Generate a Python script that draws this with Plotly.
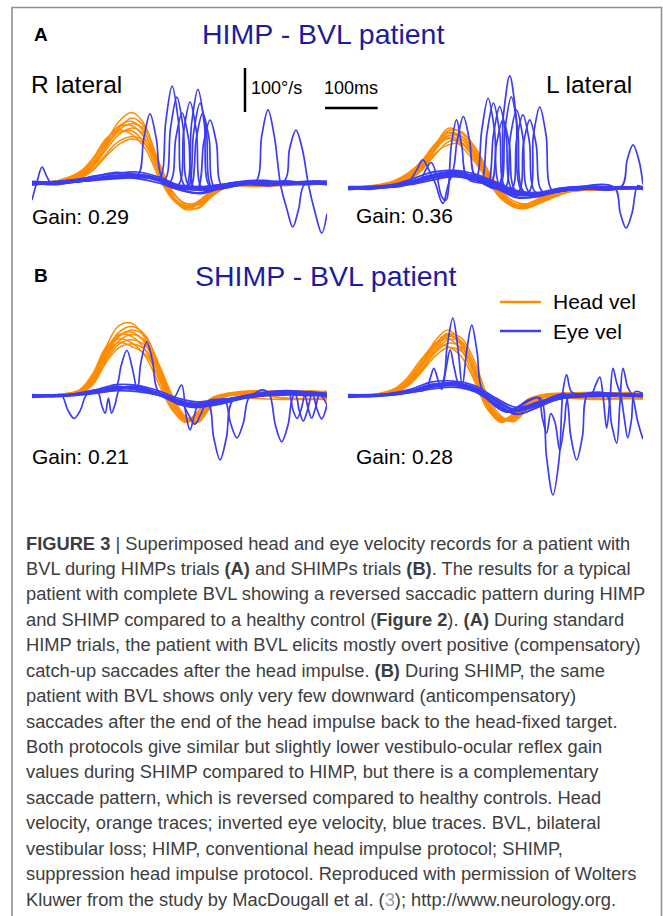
import plotly.graph_objects as go

# ---------------- data ----------------
# time key points (ms) shared by head-velocity traces
HEAD_T = [0, 50, 90, 115, 140, 165, 190, 215, 240, 265, 290, 315, 340, 370, 420, 480, 530, 560]
# time key points (ms) shared by slow-phase eye-velocity traces
EYE_T = [0, 40, 80, 120, 160, 200, 240, 280, 320, 360, 400, 440, 480, 520, 560]

# ---- A: HIMP, R lateral ----
HIMP_R_HEAD = [
    [0, 3, 15, 40, 90, 140, 160, 130, 35, -30, -55, -50, -28, -6, -8, -5, -3, 0],
    [2, 5, 20, 50, 95, 130, 140, 112, 30, -28, -52, -48, -22, -6, -6, -4, -2, -1],
    [-2, 2, 12, 35, 75, 110, 125, 108, 40, -25, -60, -56, -30, -8, -4, -6, -3, -2],
    [1, 4, 18, 45, 85, 115, 118, 88, 22, -32, -52, -44, -20, -3, -7, -3, 0, 1],
    [0, 6, 25, 55, 100, 120, 110, 78, 15, -35, -55, -42, -18, -4, -5, -2, -4, 0],
    [-1, 2, 10, 30, 65, 95, 105, 95, 45, -18, -46, -50, -30, -10, -3, -5, -2, -1],
    [2, 3, 14, 38, 80, 120, 135, 120, 50, -15, -50, -58, -32, -9, -6, -4, -1, 1],
    [0, 4, 16, 42, 88, 125, 148, 125, 40, -30, -58, -47, -20, -4, -6, -3, -2, 0],
    [-3, 1, 10, 28, 60, 88, 100, 88, 38, -20, -46, -44, -24, -6, -4, -4, -3, -2],
    [1, 5, 22, 52, 96, 128, 130, 100, 30, -28, -54, -50, -24, -5, -7, -2, -1, 1],
]
HIMP_R_EYE = [
    [0, 2, 5, 12, 18, 20, 10, -12, -15, -5, 0, 2, 0, 3, 0],
    [-5, 0, 3, 10, 15, 16, 6, -15, -22, -8, -2, 0, -4, 0, -3],
    [4, 3, 8, 15, 24, 18, 5, -10, -10, -3, 4, 6, 1, 4, 4],
    [0, -4, 2, 6, 10, 12, 8, -8, -14, -6, -1, -4, 0, -3, 0],
    [-2, 1, 6, 16, 22, 25, 14, -5, -8, -4, 3, 1, 5, 0, -4],
    [2, 0, 4, 9, 14, 10, 0, -16, -24, -12, -5, 0, -1, 2, 2],
]
HIMP_R_SACC_T = [
    [0, 80, 160, 200, 212, 224, 236, 248, 285, 330, 420, 560],
    [0, 80, 160, 220, 242, 254, 266, 278, 290, 330, 420, 560],
    [0, 80, 160, 220, 251, 263, 275, 287, 299, 340, 420, 560],
    [0, 80, 160, 220, 261, 273, 285, 297, 309, 350, 430, 560],
    [0, 80, 160, 220, 276, 288, 300, 312, 324, 360, 440, 560],
    [0, 80, 160, 220, 270, 291, 303, 315, 327, 339, 380, 560],
    [0, 80, 160, 220, 275, 295, 307, 319, 331, 343, 390, 560],
    [0, 80, 160, 220, 280, 300, 312, 324, 336, 348, 400, 560],
    [0, 80, 160, 220, 290, 314, 326, 338, 350, 362, 410, 560],
    [0, 10, 19, 28, 38, 80, 160, 220, 290, 360, 460, 560],
    [0, 80, 160, 220, 300, 380, 424, 436, 448, 460, 472, 484, 495, 506, 518, 560],
    [0, 80, 160, 220, 300, 380, 477, 489, 501, 513, 525, 538, 550, 560],
]
HIMP_R_SACC_V = [
    [1, 4, 16, 16, 100, 157, 100, 10, -10, -14, 0, 1],
    [0, 3, 14, 14, 10, 140, 220, 140, -6, -15, -1, 0],
    [-1, 2, 12, 16, 6, 125, 195, 125, -8, -12, 0, -1],
    [0, 4, 15, 15, 2, 102, 159, 102, -12, -10, 1, 0],
    [1, 3, 13, 14, -6, 118, 184, 118, -14, -8, 0, 1],
    [0, 2, 15, 16, -8, -12, 136, 213, 136, -10, -3, 0],
    [-1, 3, 14, 14, -10, -14, 116, 181, 116, -12, -2, 0],
    [0, 4, 16, 15, -9, -12, 102, 159, 102, -11, 0, 1],
    [1, 3, 12, 13, -12, -12, 92, 143, 92, -8, 0, 0],
    [-39, 5, 36, 15, -2, 3, 14, 15, -14, -4, 2, 0],
    [0, 2, 14, 14, -14, 0, 2, 106, 166, 106, -5, -60, -100, -60, -2, 3],
    [1, 3, 15, 13, -12, -2, 2, 78, 120, 78, -5, -70, -114, -70],
]

# ---- A: HIMP, L lateral ----
HIMP_L_HEAD = [
    [0, 4, 12, 25, 50, 95, 136, 125, 90, 40, -10, -38, -42, -30, -5, -3, -2, 0],
    [2, 3, 10, 22, 45, 85, 118, 118, 85, 35, -15, -40, -45, -28, -6, -4, 0, 1],
    [-1, 5, 15, 30, 55, 95, 120, 105, 70, 25, -20, -42, -40, -25, -4, -2, -3, -1],
    [1, 2, 8, 18, 40, 75, 105, 110, 80, 30, -12, -35, -38, -26, -8, -3, -1, 1],
    [0, 6, 18, 35, 62, 100, 125, 112, 75, 28, -18, -44, -46, -30, -7, -5, -2, 0],
    [-2, 2, 9, 20, 42, 78, 98, 100, 78, 38, -5, -30, -36, -24, -6, -2, -2, -1],
    [1, 4, 14, 28, 52, 90, 112, 102, 66, 20, -22, -40, -38, -22, -4, -3, -1, 2],
    [0, 3, 11, 24, 48, 88, 130, 128, 95, 42, -8, -36, -44, -32, -9, -4, -2, 0],
    [-1, 3, 11, 26, 50, 92, 126, 118, 82, 30, -14, -38, -40, -27, -5, -2, -3, 0],
    [2, 5, 16, 32, 58, 98, 115, 95, 60, 18, -24, -42, -36, -20, -3, -4, 0, 1],
]
HIMP_L_EYE = [
    [0, 1, 4, 15, 30, 35, 28, 10, -12, -15, -5, 0, 2, -2, 0],
    [-4, 0, 2, 10, 22, 28, 24, 5, -20, -18, -6, -4, 0, 1, -3],
    [3, 4, 6, 20, 36, 40, 32, 14, -6, -10, -1, 3, 4, 0, 3],
    [0, -3, 3, 12, 24, 30, 20, 0, -22, -20, -8, -3, -3, -2, 0],
    [-2, 2, 7, 16, 30, 38, 26, 8, -14, -16, -2, 2, 0, 3, -2],
    [2, 0, 2, 8, 18, 26, 18, 2, -16, -12, -5, 0, 2, -1, 2],
]
HIMP_L_SACC_T = [
    [0, 60, 110, 130, 142, 154, 166, 180, 200, 260, 330, 420, 560],
    [0, 60, 110, 136, 147, 158, 168, 178, 186, 196, 206, 216, 228, 280, 340, 440, 560],
    [0, 60, 120, 170, 195, 207, 219, 231, 243, 290, 350, 440, 560],
    [0, 60, 120, 180, 225, 242, 254, 266, 278, 290, 330, 420, 560],
    [0, 60, 120, 180, 235, 252, 264, 276, 288, 300, 345, 420, 560],
    [0, 60, 120, 180, 240, 264, 276, 288, 300, 312, 355, 430, 560],
    [0, 60, 120, 180, 240, 270, 282, 294, 306, 318, 360, 440, 560],
    [0, 60, 120, 180, 240, 283, 295, 307, 319, 331, 370, 440, 560],
    [0, 60, 120, 180, 240, 286, 298, 310, 322, 334, 375, 450, 560],
    [0, 60, 120, 180, 250, 296, 308, 320, 332, 344, 385, 450, 560],
    [0, 60, 120, 180, 250, 308, 320, 332, 344, 356, 395, 460, 560],
    [0, 60, 120, 180, 250, 321, 333, 345, 357, 369, 405, 470, 560],
    [0, 60, 120, 180, 260, 340, 352, 364, 376, 388, 425, 480, 560],
    [0, 60, 120, 180, 260, 330, 420, 505, 517, 528, 539, 550, 560],
    [0, 60, 120, 180, 260, 330, 420, 518, 530, 541, 552, 560],
]
HIMP_L_SACC_V = [
    [0, 1, 8, 40, 64, 40, 10, -35, 30, 20, -15, 0, 0],
    [1, 2, 10, 15, 40, 58, 30, -20, -28, 95, 155, 95, 20, 8, -14, 1, 0],
    [0, 2, 14, 30, 30, 106, 162, 106, 22, 6, -16, 0, 1],
    [-1, 1, 12, 32, 26, 18, 132, 204, 132, 0, -16, -2, 0],
    [0, 2, 14, 34, 24, 14, 126, 193, 126, -2, -15, 0, 1],
    [1, 2, 12, 30, 22, 8, 120, 185, 120, -4, -16, -1, 0],
    [0, 1, 13, 32, 22, 6, 100, 155, 100, -6, -14, 0, 1],
    [-1, 2, 12, 31, 20, 0, 165, 255, 165, -8, -12, 0, 0],
    [0, 1, 14, 33, 22, 2, 134, 207, 134, -9, -12, 1, 0],
    [1, 2, 12, 30, 18, -4, 115, 177, 115, -10, -10, 0, 1],
    [0, 1, 13, 32, 18, -8, 108, 166, 108, -10, -8, 1, 0],
    [-1, 2, 12, 31, 17, -12, 100, 155, 100, -8, -6, 0, 0],
    [0, 1, 14, 30, 15, -14, 120, 184, 120, -6, -3, 1, 0],
    [0, 2, 14, 30, 18, -15, 0, 2, -58, -91, -58, 5, 0],
    [1, 1, 12, 31, 16, -14, 1, 2, 64, 98, 64, 8],
]

# ---- B: SHIMP, R lateral ----
SHIMP_R_HEAD = [
    [0, 2, 8, 40, 110, 160, 165, 130, 50, -20, -60, -45, -10, 5, 10, 8, 12, 8],
    [1, 3, 10, 45, 105, 140, 135, 105, 40, -25, -55, -40, -8, 4, 8, 10, 6, 9],
    [-1, 1, 6, 30, 85, 125, 140, 125, 65, -5, -50, -55, -20, 2, 6, 5, 8, 4],
    [0, 4, 14, 50, 110, 130, 120, 90, 30, -30, -58, -35, -5, 6, 12, 9, 10, 11],
    [2, 2, 7, 32, 90, 135, 150, 135, 75, 5, -45, -60, -25, 0, 8, 12, 9, 6],
    [-2, 0, 5, 25, 75, 110, 118, 105, 55, -8, -48, -50, -18, 3, 5, -6, -8, -5],
    [1, 3, 12, 42, 100, 145, 158, 138, 70, -2, -52, -58, -22, 1, 9, 7, 10, 7],
    [0, 2, 9, 35, 92, 122, 112, 95, 45, -15, -52, -42, -12, 2, -5, -8, -7, -9],
    [1, 2, 10, 38, 96, 138, 145, 120, 55, -12, -54, -48, -15, 3, 7, 10, 6, 8],
    [-1, 1, 6, 28, 80, 118, 128, 115, 62, -4, -46, -56, -22, 0, 4, -4, -6, -3],
]
SHIMP_R_EYE = [
    [0, 1, 3, 10, 20, 18, 8, -12, -20, -14, -4, 4, 8, 5, 3],
    [-3, 0, 2, 8, 16, 14, 2, -18, -24, -18, -6, 0, 5, 6, 0],
    [3, 2, 5, 14, 26, 24, 12, -6, -14, -8, 0, 8, 12, 10, 6],
    [0, -2, 1, 6, 12, 10, 2, -14, -18, -12, -4, 3, 4, 1, 1],
    [1, 2, 4, 11, 22, 16, 6, -10, -20, -15, -5, 5, 9, 7, 4],
    [-2, 0, 3, 9, 18, 22, 6, -20, -26, -14, -3, 1, 2, 4, -2],
]
SHIMP_R_SACC_T = [
    [0, 40, 56, 68, 80, 92, 104, 130, 170, 220, 280, 320, 400, 480, 560],
    [0, 60, 110, 125, 132, 139, 145, 151, 158, 167, 200, 280, 320, 400, 480, 560],
    [0, 60, 120, 158, 169, 180, 191, 200, 207, 218, 229, 240, 280, 320, 400, 480, 560],
    [0, 60, 120, 180, 240, 268, 284, 292, 300, 308, 318, 360, 440, 560],
    [0, 60, 120, 180, 240, 285, 297, 309, 321, 333, 380, 440, 500, 560],
    [0, 60, 120, 180, 240, 300, 333, 345, 357, 369, 381, 420, 480, 560],
    [0, 60, 120, 180, 240, 300, 345, 365, 377, 389, 401, 413, 440, 480, 560],
    [0, 60, 120, 180, 240, 300, 360, 420, 436, 450, 462, 474, 486, 498, 520, 560],
    [0, 60, 120, 180, 240, 300, 360, 440, 486, 495, 503, 511, 518, 524, 531, 538, 546, 560],
    [0, 60, 120, 180, 240, 300, 360, 440, 498, 507, 515, 523, 532, 541, 550, 560],
]
SHIMP_R_SACC_V = [
    [0, 1, 2, -32, -51, -32, 3, 10, 20, 12, -12, -20, -4, 8, 3],
    [1, 2, 6, 8, -20, -39, -5, -39, -18, 15, 16, -12, -18, -3, 7, 2],
    [0, 1, 8, 18, 68, 104, 60, 12, 78, 123, 78, 10, -12, -18, -4, 6, 3],
    [0, 2, 10, 20, 6, -5, 25, -40, -77, -45, -15, -12, 4, 3],
    [1, 2, 9, 18, 5, -18, -42, -64, -40, -12, -6, 4, 8, 4],
    [0, 2, 10, 20, 6, -20, -14, -95, -145, -95, -10, 4, 8, 4],
    [0, 1, 8, 18, 5, -20, -14, -8, -62, -95, -62, -2, 5, 8, 3],
    [0, 2, 10, 18, 4, -18, -12, 4, 14, 6, -66, -104, -66, 4, 8, 5],
    [1, 2, 9, 20, 6, -18, -12, 6, 8, -30, -51, -30, 2, -28, -50, -28, 4, -20],
    [0, 1, 8, 19, 5, -20, -14, 4, 6, -32, -57, -32, 6, -30, -52, -20],
]

# ---- B: SHIMP, L lateral ----
SHIMP_L_HEAD = [
    [0, 2, 12, 35, 70, 125, 150, 120, 50, -25, -60, -45, -15, 0, 5, 6, 4, 5],
    [1, 3, 15, 40, 80, 120, 130, 105, 40, -30, -55, -40, -10, 2, 6, 4, 6, 3],
    [-1, 1, 8, 28, 60, 105, 135, 125, 70, -10, -50, -55, -25, -3, 4, 3, 5, 4],
    [0, 4, 18, 45, 85, 115, 112, 90, 35, -30, -58, -38, -8, 3, 7, 8, 3, 6],
    [2, 2, 10, 32, 68, 110, 140, 132, 80, 0, -45, -58, -30, -5, 3, 5, 7, 2],
    [-2, 0, 7, 24, 55, 90, 110, 102, 60, -12, -48, -50, -22, -2, -5, -8, -6, -7],
    [1, 3, 14, 38, 75, 118, 142, 115, 52, -20, -57, -48, -16, 1, 6, 7, 8, 5],
    [0, 2, 9, 30, 62, 98, 120, 110, 58, -15, -52, -45, -18, -1, -4, -6, -5, -6],
    [1, 3, 13, 36, 72, 115, 138, 118, 55, -18, -55, -46, -14, 1, 5, 6, 4, 5],
    [-1, 1, 8, 26, 58, 100, 128, 122, 66, -8, -50, -52, -24, -2, 3, -5, -4, -5],
]
SHIMP_L_EYE = [
    [0, 1, 4, 12, 25, 30, 20, -10, -35, -20, -3, 2, 4, 3, 2],
    [-3, 0, 2, 9, 20, 24, 12, -16, -40, -26, -6, -2, 2, 1, -2],
    [3, 3, 6, 16, 32, 34, 24, -4, -26, -14, 1, 5, 7, 5, 4],
    [0, -2, 2, 8, 16, 20, 10, -18, -42, -25, -7, -2, -1, 0, -1],
    [1, 2, 5, 13, 27, 28, 18, -8, -32, -18, -2, 3, 5, 4, 2],
    [-2, 0, 3, 10, 22, 30, 16, -12, -34, -22, -4, 1, 3, 2, 1],
]
SHIMP_L_SACC_T = [
    [0, 60, 120, 148, 156, 163, 170, 178, 186, 194, 202, 212, 250, 300, 360, 440, 560],
    [0, 60, 120, 160, 178, 188, 199, 209, 217, 225, 235, 245, 256, 300, 360, 440, 560],
    [0, 60, 120, 180, 240, 300, 345, 365, 377, 389, 401, 408, 415, 424, 440, 480, 560],
    [0, 60, 120, 180, 240, 300, 345, 361, 369, 377, 385, 393, 402, 411, 420, 460, 560],
    [0, 60, 120, 180, 240, 300, 360, 400, 412, 423, 434, 445, 456, 490, 560],
    [0, 60, 120, 180, 240, 300, 360, 440, 462, 470, 478, 485, 491, 497, 503, 510, 518, 525, 531, 538, 545, 560],
    [0, 60, 120, 180, 240, 300, 360, 440, 490, 500, 510, 516, 522, 531, 540, 550, 560],
]
SHIMP_L_SACC_V = [
    [0, 1, 10, 15, 40, 63, 40, 15, 62, 105, 62, 25, 10, -34, -18, 2, 1],
    [1, 2, 12, 24, 28, 110, 177, 105, 22, 100, 161, 100, 10, -36, -20, 3, 2],
    [0, 1, 10, 28, 16, -34, -8, -5, -140, -225, -140, 10, 48, 10, 2, 3, 2],
    [1, 2, 11, 26, 14, -35, -10, -4, -50, -84, -40, -60, -123, -60, 0, 4, 2],
    [0, 1, 9, 27, 15, -33, -15, 3, 5, -92, -145, -92, 5, 3, 2],
    [0, 2, 10, 28, 14, -34, -16, 2, 4, 25, 43, -10, -73, -10, 63, 30, 0, -55, -95, -55, 10, 5],
    [1, 2, 11, 26, 14, -36, -18, 3, 4, -62, -107, -20, 63, 20, 0, -58, -98],
]

GAINS = ["0.29", "0.36", "0.21", "0.28"]
SIDES = ["R lateral", "L lateral"]
TITLES = ["HIMP - BVL patient", "SHIMP - BVL patient"]
LEGEND_LABELS = ["Head vel", "Eye vel"]
SCALE_MS = 100
SCALE_DEG = 100

CAPTION = [
    "<b>FIGURE 3</b> | Superimposed head and eye velocity records for a patient with",
    "BVL during HIMPs trials <b>(A)</b> and SHIMPs trials <b>(B)</b>. The results for a typical",
    "patient with complete BVL showing a reversed saccadic pattern during HIMP",
    "and SHIMP compared to a healthy control (<b>Figure 2</b>). <b>(A)</b> During standard",
    "HIMP trials, the patient with BVL elicits mostly overt positive (compensatory)",
    "catch-up saccades after the head impulse. <b>(B)</b> During SHIMP, the same",
    "patient with BVL shows only very few downward (anticompensatory)",
    "saccades after the end of the head impulse back to the head-fixed target.",
    "Both protocols give similar but slightly lower vestibulo-ocular reflex gain",
    "values during SHIMP compared to HIMP, but there is a complementary",
    "saccade pattern, which is reversed compared to healthy controls. Head",
    "velocity, orange traces; inverted eye velocity, blue traces. BVL, bilateral",
    "vestibular loss; HIMP, conventional head impulse protocol; SHIMP,",
    "suppression head impulse protocol. Reproduced with permission of Wolters",
    "Kluwer from the study by MacDougall et al. (<span style='color:#8da2b8'>3</span>); http://www.neurology.org.",
]

# ---------------- layout / style ----------------
W, H = 663, 916
T_MAX = 560
PX_PER_MS = 295 / T_MAX
PX_PER_DEG = 0.44
ORANGE = "#ff8c00"
BLUE = "#3c3cf4"
TITLE_C = "#1c1c9e"
FONT = "Liberation Sans, Arial, Helvetica, sans-serif"

# panel geometry in pixels: (x_left, y_top, y_bottom, baseline_y)
PANELS = [
    (32, 55, 250, 183, HIMP_R_HEAD, HIMP_R_EYE, HIMP_R_SACC_T, HIMP_R_SACC_V),
    (348, 55, 250, 188, HIMP_L_HEAD, HIMP_L_EYE, HIMP_L_SACC_T, HIMP_L_SACC_V),
    (32, 290, 515, 396, SHIMP_R_HEAD, SHIMP_R_EYE, SHIMP_R_SACC_T, SHIMP_R_SACC_V),
    (348, 290, 515, 396, SHIMP_L_HEAD, SHIMP_L_EYE, SHIMP_L_SACC_T, SHIMP_L_SACC_V),
]

fig = go.Figure()
layout_axes = {}

for i, (xl, yt, yb, base, head, eye, st, sv) in enumerate(PANELS):
    n = i + 1
    xa = "x" if n == 1 else f"x{n}"
    ya = "y" if n == 1 else f"y{n}"
    layout_axes["xaxis" if n == 1 else f"xaxis{n}"] = dict(
        domain=[xl / W, (xl + 295) / W], range=[0, T_MAX], visible=False,
        fixedrange=True, anchor=ya)
    layout_axes["yaxis" if n == 1 else f"yaxis{n}"] = dict(
        domain=[1 - yb / H, 1 - yt / H],
        range=[-(yb - base) / PX_PER_DEG, (base - yt) / PX_PER_DEG],
        visible=False, fixedrange=True, anchor=xa)
    for v in head:
        fig.add_trace(go.Scatter(x=HEAD_T, y=v, mode="lines", xaxis=xa, yaxis=ya,
                                 line=dict(color=ORANGE, width=1.5, shape="spline", smoothing=1),
                                 showlegend=False, hoverinfo="skip"))
    for v in eye:
        fig.add_trace(go.Scatter(x=EYE_T, y=v, mode="lines", xaxis=xa, yaxis=ya,
                                 line=dict(color=BLUE, width=1.7, shape="spline", smoothing=1),
                                 showlegend=False, hoverinfo="skip"))
    for t, v in zip(st, sv):
        fig.add_trace(go.Scatter(x=t, y=v, mode="lines", xaxis=xa, yaxis=ya,
                                 line=dict(color=BLUE, width=1.7, shape="spline", smoothing=1),
                                 showlegend=False, hoverinfo="skip"))

# overlay axis covering the page, same scale as the panels, for the scale bars
layout_axes["xaxis5"] = dict(domain=[0, 1], range=[0, W / PX_PER_MS], visible=False,
                             fixedrange=True, anchor="y5")
layout_axes["yaxis5"] = dict(domain=[0, 1], range=[0, H / PX_PER_DEG], visible=False,
                             fixedrange=True, anchor="x5")
vx = 245 / PX_PER_MS
vy0 = (H - 112) / PX_PER_DEG
fig.add_trace(go.Scatter(x=[vx, vx], y=[vy0, vy0 + SCALE_DEG], mode="lines", xaxis="x5", yaxis="y5",
                         line=dict(color="black", width=2.5), showlegend=False, hoverinfo="skip"))
hx0 = 325 / PX_PER_MS
hy = (H - 108) / PX_PER_DEG
fig.add_trace(go.Scatter(x=[hx0, hx0 + SCALE_MS], y=[hy, hy], mode="lines", xaxis="x5", yaxis="y5",
                         line=dict(color="black", width=2.5), showlegend=False, hoverinfo="skip"))


def ann(text, px, py, size, color="black", xanchor="left", bold=False):
    return dict(text=f"<b>{text}</b>" if bold else text, x=px / W, y=1 - py / H,
                xref="paper", yref="paper", xanchor=xanchor, yanchor="middle",
                showarrow=False, font=dict(family=FONT, size=size, color=color))


annotations = [
    ann("A", 32, 34, 19, bold=True),
    ann(TITLES[0], 323, 34, 28.5, TITLE_C, "center"),
    ann(SIDES[0], 29, 85, 24.5),
    ann(SIDES[1], 634, 85, 24.5, xanchor="right"),
    ann(f"{SCALE_DEG}°/s", 249, 88, 18),
    ann(f"{SCALE_MS}ms", 322, 88, 18),
    ann(f"Gain: {GAINS[0]}", 30, 216, 21),
    ann(f"Gain: {GAINS[1]}", 354, 215, 21),
    ann("B", 32, 276, 19, bold=True),
    ann(TITLES[1], 325, 276, 28.5, TITLE_C, "center"),
    ann(LEGEND_LABELS[0], 551, 302, 21),
    ann(LEGEND_LABELS[1], 551, 331, 21),
    ann(f"Gain: {GAINS[2]}", 30, 456, 21),
    ann(f"Gain: {GAINS[3]}", 354, 456, 21),
]
for k, line in enumerate(CAPTION):
    annotations.append(ann(line, 24, 543 + 25.43 * k, 18.3, "#3d3d3d"))

shapes = [
    dict(type="rect", xref="paper", yref="paper", x0=12 / W, x1=661.5 / W,
         y0=-0.1, y1=1 - 7.5 / H, line=dict(color="#8f8f8f", width=1.6)),
    dict(type="line", xref="paper", yref="paper", x0=500 / W, x1=541 / W,
         y0=1 - 302 / H, y1=1 - 302 / H, line=dict(color=ORANGE, width=2.5)),
    dict(type="line", xref="paper", yref="paper", x0=500 / W, x1=541 / W,
         y0=1 - 331 / H, y1=1 - 331 / H, line=dict(color=BLUE, width=2.5)),
]

fig.update_layout(
    width=W, height=H, margin=dict(l=0, r=0, t=0, b=0),
    paper_bgcolor="white", plot_bgcolor="rgba(0,0,0,0)",
    showlegend=False, annotations=annotations, shapes=shapes,
    font=dict(family=FONT), **layout_axes,
)

fig.write_html("out.html", config={"displayModeBar": False})
